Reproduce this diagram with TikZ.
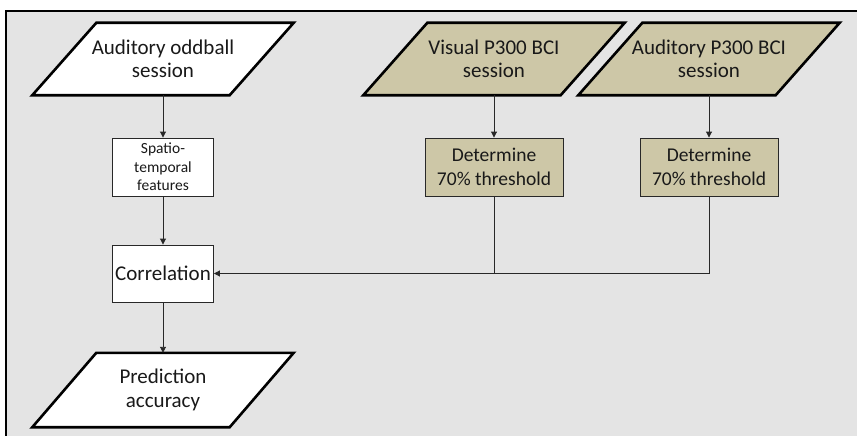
\documentclass[tikz,border=0pt]{standalone}
\usepackage{fontspec}
\setmainfont{Carlito}
\usetikzlibrary{arrows.meta,backgrounds}
\definecolor{panel}{RGB}{228,228,228}
\definecolor{khaki}{RGB}{205,199,167}
\definecolor{ink}{RGB}{40,40,40}

% slanted outline (data shape) drawn behind a named text node
\newcommand\slantoutline[2]{%
  \begin{scope}[on background layer]
    \draw[line width=2.6pt, line join=miter, fill=#2]
      ([xshift=32pt]#1.north west) -- ([xshift=32pt]#1.north east)
      -- ([xshift=-32pt]#1.south east) -- ([xshift=-32pt]#1.south west) -- cycle;
  \end{scope}}

\begin{document}
\begin{tikzpicture}[x=1pt,y=-1pt,
  txt/.style={font=\fontsize{21}{22.5}\selectfont, align=center, inner sep=0pt, text=black!90},
  slantnode/.style={txt, minimum width=197pt, minimum height=72pt},
  stepbox/.style={txt, draw=ink, line width=0.9pt, minimum height=58pt},
  thrbox/.style={stepbox, fill=khaki, minimum width=138pt, font=\fontsize{19.5}{24}\selectfont},
  flow/.style={draw=ink, line width=0.9pt, -{Triangle[length=6pt,width=6pt]}},
  link/.style={draw=ink, line width=0.9pt}
]
\useasboundingbox (0,0) rectangle (857,436);

% panel with framed top and left edges
\begin{scope}[on background layer]
  \fill[white] (0,0) rectangle (857,436);
  \fill[panel] (6,11) rectangle (857,436);
  \draw[line width=2.4pt, line cap=rect] (6,436) -- (6,11) -- (857,11);
\end{scope}

% left column
\node[slantnode] (odd) at (163,59) {Auditory oddball\\session};
\slantoutline{odd}{white}
\node[stepbox, fill=white, minimum width=101pt,
      font=\fontsize{15.5}{18.5}\selectfont] (spatio) at (163,167) {Spatio-\\temporal\\features};
\node[stepbox, fill=white, minimum width=101pt, minimum height=57pt] (corr) at (163,273.5) {Correlation};
\node[slantnode, minimum height=74pt, font=\fontsize{21}{23.5}\selectfont] (pred) at (163,390) {Prediction\\accuracy};
\slantoutline{pred}{white}

% BCI sessions
\node[slantnode] (vis) at (494,59) {Visual P300 BCI\\session};
\slantoutline{vis}{khaki}
\node[slantnode] (aud) at (709,59) {Auditory P300 BCI\\session};
\slantoutline{aud}{khaki}
\node[thrbox] (visthr) at (494,167) {Determine\\70\% threshold};
\node[thrbox] (audthr) at (709,167) {Determine\\70\% threshold};

% connectors
\draw[flow] (odd) -- (spatio);
\draw[flow] (spatio) -- (corr);
\draw[flow] (corr) -- (pred);
\draw[flow] (vis) -- (visthr);
\draw[flow] (aud) -- (audthr);
\draw[flow] (audthr.south) |- (corr.east);
\draw[link] (visthr.south) -- (visthr.south |- corr.east);
\end{tikzpicture}
\end{document}
